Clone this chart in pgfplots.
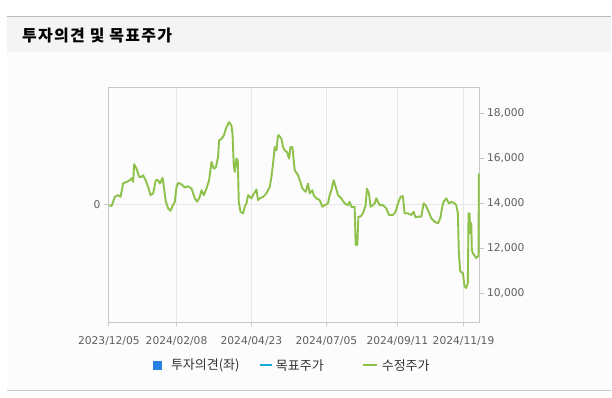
\documentclass[border=0pt]{standalone}
\usepackage{fontspec}
\setmainfont{DejaVu Sans}
\newfontfamily\kr{Noto Sans CJK KR}
\newfontfamily\krtitle[LetterSpace=8]{Noto Sans CJK KR}
\usepackage{pgfplots}
\pgfplotsset{compat=1.18}
\definecolor{bandc}{RGB}{244,244,244}
\definecolor{bgc}{RGB}{252,252,252}
\definecolor{framec}{RGB}{185,185,185}
\definecolor{axc}{RGB}{200,200,200}
\definecolor{gridc}{RGB}{232,232,232}
\definecolor{tickc}{RGB}{95,95,95}
\definecolor{linegreen}{RGB}{141,193,74}
\definecolor{legblue}{RGB}{42,128,226}
\definecolor{legcyan}{RGB}{20,172,210}
\definecolor{legtext}{RGB}{51,51,51}
\begin{document}
\begin{tikzpicture}
\fill[white] (0pt,0pt) rectangle (612pt,398pt);
\fill[bgc] (7pt,7pt) rectangle (612pt,346pt);
\fill[bandc] (7pt,346pt) rectangle (612pt,381pt);
\draw[framec, line width=1.2pt] (7pt,381.5pt) -- (612pt,381.5pt);
\draw[axc, line width=1pt] (7pt,7pt) -- (612pt,7pt);
\node[anchor=base west, inner sep=0pt, font=\krtitle\bfseries\fontsize{16}{16}\selectfont, text=black] at (22pt,356.4pt) {투자의견 및 목표주가};

% left axis (opinion, grid at 0)
\begin{axis}[at={(109pt,75.3pt)}, anchor=south west, scale only axis,
  width=371pt, height=235.2pt,
  xmin=0, xmax=371, ymin=-1, ymax=1,
  axis x line=none, axis y line*=left,
  axis line style={draw=axc, line width=0.8pt},
  ytick={0}, ymajorgrids, grid style={gridc, line width=0.8pt},
  tick align=outside, major tick length=5pt, tick style={axc, line width=0.8pt},
  ticklabel style={font=\fontsize{10.7}{12}\selectfont, text=tickc},
  /pgf/number format/assume math mode=true,
  ]
  \addplot[draw=none] coordinates {(0,0)};
\end{axis}

% right axis (price)
\begin{axis}[at={(109pt,75.3pt)}, anchor=south west, scale only axis,
  width=371pt, height=235.2pt,
  xmin=0, xmax=371, ymin=8693, ymax=19147,
  axis line style={draw=axc, line width=0.8pt},
  xtick={0,67.7,142.7,217.7,288.7,355},
  xticklabels={2023/12/05,2024/02/08,2024/04/23,2024/07/05,2024/09/11,2024/11/19},
  xmajorgrids, grid style={gridc, line width=0.8pt},
  ytick={10000,12000,14000,16000,18000},
  scaled y ticks=false,
  ytick pos=right, yticklabel pos=right, xtick pos=bottom,
  tick align=outside, major tick length=4pt, tick style={axc, line width=0.8pt},
  ticklabel style={font=\fontsize{10.7}{12}\selectfont, text=tickc},
  xticklabel style={yshift=-7pt},
  /pgf/number format/assume math mode=true,
  /pgf/number format/1000 sep={,},
  ]
\addplot[linegreen, line width=1.9pt, line join=round] coordinates {
(0.3,13900) (2.7,13870) (6,14280) (9.3,14350) (11.7,14280) (14.3,14885) (17.7,14940)
(21,15020) (22.7,15105) (24.3,14940) (25.3,15725) (27.7,15535) (30.3,15165) (32.7,15165)
(34.3,15240) (36.7,15020) (39.3,14720) (41.7,14355) (44.3,14430) (47,15020) (49.3,15020)
(51,14870) (53.7,15120) (55,14720) (57,14060) (59.3,13765) (61.7,13660) (63.7,13870)
(66,14060) (67.7,14720) (69.3,14900) (72.7,14840) (76,14695) (79.3,14750) (82.7,14650)
(86,14210) (88.3,14060) (91,14280) (92.7,14575) (95,14355) (97.7,14650) (100.3,15020)
(102.7,15830) (105,15535) (107,15580) (109.3,16050) (110.3,16790) (112.7,16860) (115,17010)
(117.7,17375) (120.3,17600) (122.7,17450) (123.7,17085) (125,15680) (126,15385) (127.7,15980)
(129,15900) (130,14060) (131.7,13615) (134.3,13545) (136,13835) (137.7,13985) (139.3,14355)
(142.7,14210) (144.3,14355) (147.7,14605) (149.3,14130) (151,14210) (154.3,14280) (157.7,14430)
(161,14720) (162.7,15165) (164.3,15755) (166,16490) (167.7,16345) (169.3,17010) (170.3,17010)
(172.7,16860) (174.3,16490) (176,16345) (178.3,16270) (180.3,15980) (181.7,16490) (183.7,16490)
(185,15900) (186,15460) (189.3,15240) (191.7,14940) (193.7,14650) (197,14500) (199.3,14870)
(201,14430) (203.7,14575) (205,14355) (207.7,14210) (211,14130) (213.7,13835) (216,13910)
(219.3,13985) (221,14355) (222.7,14575) (225,15020) (227,14720) (229.3,14355) (232.7,14210)
(236,13985) (239.3,13910) (241,14060) (242.7,13835) (246,13835) (247,12140) (248.7,12140)
(249.7,13395) (251.7,13395) (254.3,13545) (257,13910) (258.3,14650) (260.3,14430) (262,13835)
(264.3,13910) (266,13985) (267.7,14210) (269.3,14060) (271,13910) (274.3,13910) (277.7,13765)
(280.3,13470) (284.3,13470) (287,13615) (289.3,13985) (292,14280) (294.3,14310) (296,13545)
(299.3,13545) (302.7,13470) (305,13615) (307,13365) (309.3,13395) (312.7,13395) (315,13985)
(317,13910) (319.3,13690) (322.7,13325) (326,13175) (329.3,13100) (331.7,13325) (333.7,13835)
(335,14060) (337.7,14210) (340.3,13985) (342.7,14060) (346,13985) (347.7,13910) (349.3,13545)
(350.3,11775) (351.7,10960) (354.3,10890) (356,10300) (357.7,10225) (359.3,10450) (360,13545)
(361,13545) (361.7,12660) (362.7,13115) (363.3,11920) (364.3,11775) (367.7,11555) (369.3,11625)
(370,11625) (370.3,15315)
};
\end{axis}

% legend
\fill[legblue] (153pt,28pt) rectangle (162pt,37pt);
\node[anchor=west, inner sep=0pt, font=\kr\fontsize{13}{13}\selectfont, text=legtext] at (171pt,32.5pt) {투자의견(좌)};
\draw[legcyan, line width=2pt] (260pt,32.5pt) -- (272pt,32.5pt);
\node[anchor=west, inner sep=0pt, font=\kr\fontsize{13}{13}\selectfont, text=legtext] at (276pt,32.5pt) {목표주가};
\draw[linegreen, line width=2pt] (363pt,32.5pt) -- (377pt,32.5pt);
\node[anchor=west, inner sep=0pt, font=\kr\fontsize{13}{13}\selectfont, text=legtext] at (382pt,32.5pt) {수정주가};
\end{tikzpicture}
\end{document}
